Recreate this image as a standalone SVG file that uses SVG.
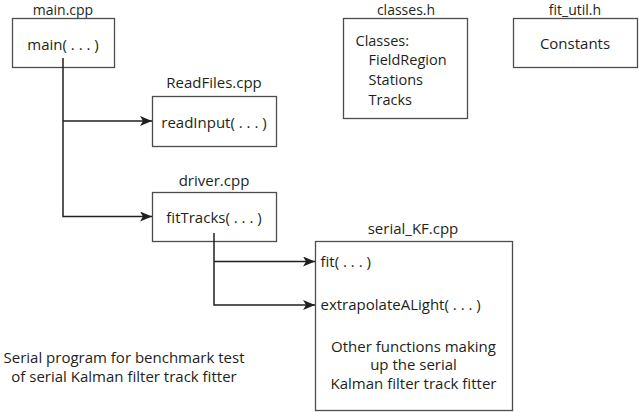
<svg xmlns="http://www.w3.org/2000/svg" width="639" height="412" viewBox="0 0 639 412">
<style>
.box{fill:#fff;stroke:#4d4d4d;stroke-width:1.3}
.t{font-family:"Open Sans","Liberation Sans",Arial,sans-serif;font-size:15px;fill:#231f20}
.top{font-size:14px}
.cl{font-size:14.5px}
.m{text-anchor:middle}
.c{fill:none;stroke:#231f20;stroke-width:1.5}
</style>
<defs>
<marker id="ah" viewBox="0 0 12 10" refX="12" refY="5" markerWidth="12" markerHeight="10" markerUnits="userSpaceOnUse" orient="auto">
<path d="M0,0 L12,5 L0,10 L3,5 Z" fill="#231f20"/>
</marker>
</defs>
<rect width="639" height="412" fill="#fff"/>
<g id="main">
<text class="t top m" x="63" y="15">main.cpp</text>
<rect class="box" x="12.5" y="18.5" width="102" height="49"/>
<text class="t m" x="63" y="50">main( . . . )</text>
</g>
<g id="readfiles">
<text class="t m" x="214" y="88">ReadFiles.cpp</text>
<rect class="box" x="152.5" y="96.5" width="124" height="50"/>
<text class="t m" x="214" y="128">readInput( . . . )</text>
</g>
<g id="driver">
<text class="t m" x="214" y="185.5">driver.cpp</text>
<rect class="box" x="152.5" y="192.5" width="124" height="49"/>
<text class="t m" x="214" y="223">fitTracks( . . . )</text>
</g>
<g id="classes">
<text class="t top m" x="406" y="15">classes.h</text>
<rect class="box" x="343.5" y="18.5" width="124" height="100"/>
<text class="t cl" x="355.5" y="45.5">Classes:</text>
<text class="t cl" x="368.5" y="65.3">FieldRegion</text>
<text class="t cl" x="368.5" y="85.1">Stations</text>
<text class="t cl" x="368.5" y="104.9">Tracks</text>
</g>
<g id="fitutil">
<text class="t top m" x="575" y="15">fit_util.h</text>
<rect class="box" x="513.5" y="18.5" width="124" height="49"/>
<text class="t m" x="575" y="48.5">Constants</text>
</g>
<g id="serialkf">
<text class="t m" x="413" y="234">serial_KF.cpp</text>
<rect class="box" x="315.5" y="241.5" width="197" height="169"/>
<text class="t" x="320.5" y="266.5">fit( . . . )</text>
<text class="t" x="320.5" y="310">extrapolateALight( . . . )</text>
<text class="t m" x="413.5" y="351.5">Other functions making</text>
<text class="t m" x="413.5" y="370">up the serial</text>
<text class="t m" x="413.5" y="388.5">Kalman filter track fitter</text>
</g>
<g id="caption">
<text class="t m" x="124" y="363">Serial program for benchmark test</text>
<text class="t m" x="124" y="381.5">of serial Kalman filter track fitter</text>
</g>
<g id="connectors">
<path class="c" d="M63,58 V216.5 H152" marker-end="url(#ah)"/>
<path class="c" d="M63,121 H152" marker-end="url(#ah)"/>
<path class="c" d="M214,233 V305 H315" marker-end="url(#ah)"/>
<path class="c" d="M214,261.5 H315" marker-end="url(#ah)"/>
</g>
</svg>
